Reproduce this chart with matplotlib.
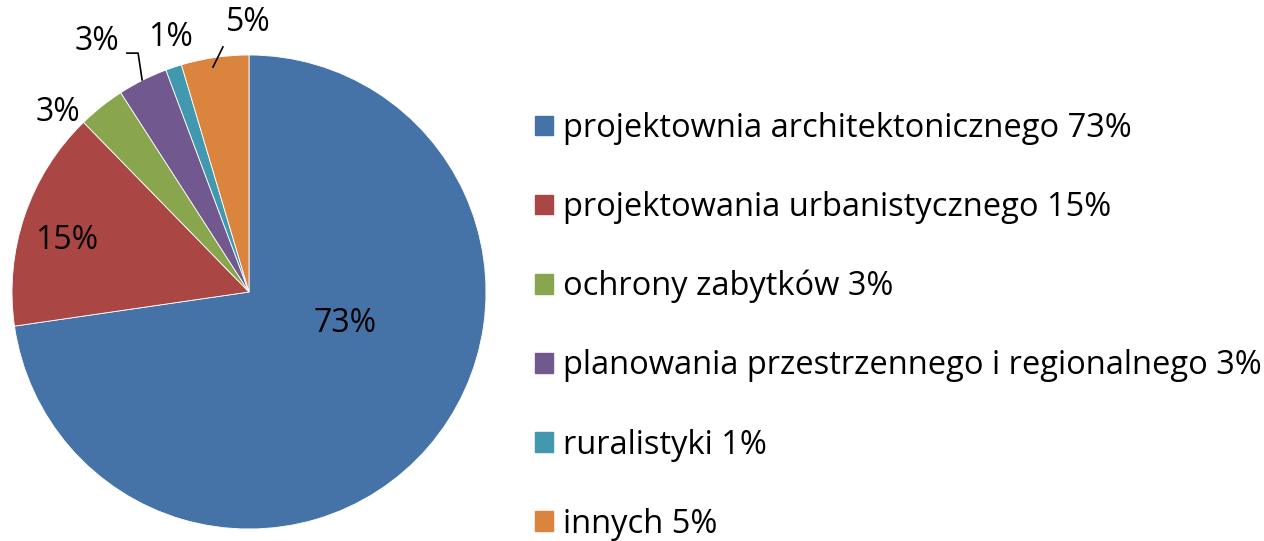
import matplotlib.pyplot as plt
from matplotlib.patches import Patch

categories = ["projektownia architektonicznego", "projektowania urbanistycznego",
              "ochrony zabytków", "planowania przestrzennego i regionalnego",
              "ruralistyki", "innych"]
values = [72.7, 15.0, 3.2, 3.4, 1.1, 4.6]
pct_labels = ["73%", "15%", "3%", "3%", "1%", "5%"]
colors = ["#4572A7", "#AA4643", "#89A54E", "#71588F", "#4198AF", "#DB843D"]

# label positions (data coords of the pie axes)
label_pos = [(0.405, -0.131), (-0.768, 0.219), (-0.806, 0.759),
             (-0.641, 1.055), (-0.333, 1.072), (-0.004, 1.139)]

plt.rcParams['font.family'] = ['Open Sans', 'DejaVu Sans']

fig = plt.figure(figsize=(12.64, 5.41), dpi=100)
ax = fig.add_axes([12 / 1264, 12 / 541, 474 / 1264, 474 / 541])
wedges, _ = ax.pie(values, colors=colors, startangle=90, counterclock=False,
                   radius=1, wedgeprops=dict(edgecolor="white", linewidth=0.6))
ax.set_xlim(-1, 1)
ax.set_ylim(-1, 1)
ax.set_aspect("equal")
ax.axis("off")

for (x, y), t in zip(label_pos, pct_labels):
    ax.text(x, y, t, fontsize=23, ha="center", va="center", clip_on=False)

# leader lines
ax.plot([-0.515, -0.468, -0.451], [1.008, 1.008, 0.895], color="black", lw=1.2, clip_on=False)
ax.plot([-0.152, -0.110], [0.949, 1.034], color="black", lw=1.2, clip_on=False)

handles = [Patch(facecolor=c, edgecolor=c) for c in colors]
labels = [f"{c} {p}" for c, p in zip(categories, pct_labels)]
fig.legend(handles, labels, loc="center left", bbox_to_anchor=(535 / 1264, 0.397),
           frameon=False, fontsize=23.5, handlelength=0.55, handleheight=0.55,
           handletextpad=0.3, labelspacing=1.41, borderpad=0, borderaxespad=0)

fig.savefig("out.png", dpi=100)
